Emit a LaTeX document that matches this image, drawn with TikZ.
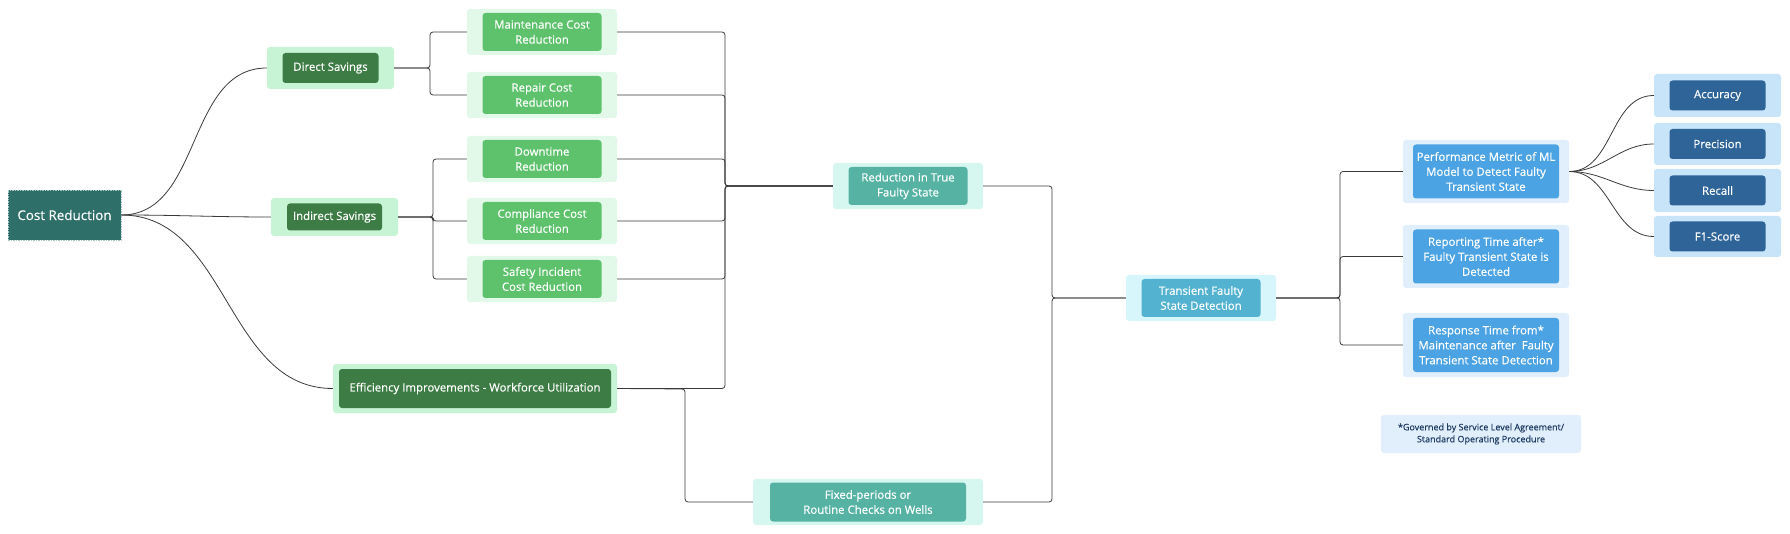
\documentclass[tikz,border=0pt]{standalone}
\usepackage{fontspec}
\setmainfont{Open Sans}[FakeBold=0.5]
\usetikzlibrary{calc}
\definecolor{rootfill}{HTML}{2E6F69}
\definecolor{rootline}{HTML}{A9C7C4}
\definecolor{lonefill}{HTML}{C6F4D4}
\definecolor{loneinner}{HTML}{3D7D45}
\definecolor{leaffill}{HTML}{E2F9EA}
\definecolor{leafinner}{HTML}{5DC26B}
\definecolor{tealfill}{HTML}{D6F7F0}
\definecolor{tealinner}{HTML}{56B3A4}
\definecolor{cyanfill}{HTML}{D6F6FB}
\definecolor{cyaninner}{HTML}{53B2D0}
\definecolor{bluefill}{HTML}{E1EFFC}
\definecolor{blueinner}{HTML}{4CA3E3}
\definecolor{metfill}{HTML}{C7E4F8}
\definecolor{metinner}{HTML}{2E6497}
\definecolor{notetext}{HTML}{1F3B63}
\definecolor{connline}{HTML}{3A3A3A}
\newcommand{\twobox}[9]{%
  \node[#3, minimum width=#4pt, minimum height=#5pt] (#1) at #2 {};
  \node[#6, minimum width=#7pt, minimum height=#8pt] (#1-in) at #2 {#9};
}
\begin{document}
\begin{tikzpicture}[x=1pt,y=-1pt,
  outerbox/.style={rounded corners=3pt, inner sep=0pt, draw=none},
  innerbox/.style={rounded corners=3pt, inner sep=0pt, draw=none, text=white, align=center, font=\fontsize{11.4}{15}\selectfont},
  lone/.style={outerbox, fill=lonefill},
  loneI/.style={innerbox, fill=loneinner},
  leaf/.style={outerbox, fill=leaffill},
  leafI/.style={innerbox, fill=leafinner},
  teal/.style={outerbox, fill=tealfill},
  tealI/.style={innerbox, fill=tealinner},
  cyan/.style={outerbox, fill=cyanfill},
  cyanI/.style={innerbox, fill=cyaninner},
  blue/.style={outerbox, fill=bluefill},
  blueI/.style={innerbox, fill=blueinner},
  met/.style={outerbox, fill=metfill},
  metI/.style={innerbox, fill=metinner},
  conn/.style={draw=connline, line width=0.8pt, rounded corners=3pt},
  curve/.style={draw=connline, line width=0.8pt},
]
\useasboundingbox (0,0) rectangle (1790,534);

% root
\node[fill=rootfill, draw=rootline, dashed, dash pattern=on 1.5pt off 1pt, line width=0.6pt,
      minimum width=113pt, minimum height=50pt, inner sep=0pt, text=white,
      font=\fontsize{13.4}{16}\selectfont] (root) at (64.5,215) {Cost Reduction};

% level 1
\twobox{direct}{(330.5,68)}{lone}{127}{42}{loneI}{96}{30}{Direct Savings}
\twobox{indirect}{(334.5,217)}{lone}{127}{38}{loneI}{95}{27}{Indirect Savings}
\twobox{eff}{(475,388.5)}{lone}{284}{49}{loneI}{272}{39}{Efficiency Improvements - Workforce Utilization}

% leaves
\twobox{maint}{(542,32)}{leaf}{150}{46}{leafI}{119}{38}{Maintenance Cost\\Reduction}
\twobox{repair}{(542,95)}{leaf}{150}{46}{leafI}{119}{38}{Repair Cost\\Reduction}
\twobox{down}{(542,159)}{leaf}{150}{46}{leafI}{119}{38}{Downtime\\Reduction}
\twobox{compl}{(542,221)}{leaf}{150}{46}{leafI}{119}{38}{Compliance Cost\\Reduction}
\twobox{safety}{(542,279)}{leaf}{150}{46}{leafI}{119}{38}{Safety Incident\\Cost Reduction}

% middle
\twobox{red}{(908,186)}{teal}{150}{46}{tealI}{119}{38}{Reduction in True\\Faulty State}
\twobox{fixed}{(868,502)}{teal}{230}{46}{tealI}{196}{39}{Fixed-periods or\\Routine Checks on Wells}
\twobox{trans}{(1201,298)}{cyan}{150}{46}{cyanI}{119}{38}{Transient Faulty\\State Detection}

% right
\twobox{perf}{(1486,171.5)}{blue}{166}{63}{blueI}{146}{54}{Performance Metric of ML\\Model to Detect Faulty\\Transient State}
\twobox{report}{(1486,256.5)}{blue}{166}{63}{blueI}{146}{54}{Reporting Time after*\\Faulty Transient State is\\Detected}
\twobox{resp}{(1486,345)}{blue}{166}{64}{blueI}{146}{54}{Response Time from*\\Maintenance after\ \ Faulty\\Transient State Detection}

% metrics
\twobox{acc}{(1717.5,95.5)}{met}{127}{43}{metI}{96}{30}{Accuracy}
\twobox{prec}{(1717.5,144)}{met}{127}{42}{metI}{96}{30}{Precision}
\twobox{recall}{(1717.5,190.5)}{met}{127}{43}{metI}{96}{30}{Recall}
\twobox{fone}{(1717.5,236.5)}{met}{127}{41}{metI}{96}{30}{F1-Score}

% footnote
\node[fill=bluefill, rounded corners=3pt, minimum width=200pt, minimum height=38pt, inner sep=0pt,
      text=notetext, align=center, font=\fontsize{9}{12}\selectfont] (note) at (1481,434)
      {*Governed by Service Level Agreement/\\Standard Operating Procedure};

% junction coordinates
\coordinate (jd) at (430,68);
\coordinate (ji) at (433,217);
\coordinate (jr) at (725,186);
\coordinate (jf) at (685,389);
\coordinate (jt) at (1052,298);
\coordinate (jp) at (1340,298);

% curves from root
\draw[curve] (root.east) to[out=0,in=180] (direct.west);
\draw[curve] (root.east) to[out=0,in=180] (indirect.west);
\draw[curve] (root.east) to[out=0,in=180] (eff.west);

% direct savings branch
\draw[conn] (direct.east) -- (jd) |- (maint.west);
\draw[conn] (direct.east) -- (jd) |- (repair.west);
% indirect savings branch
\draw[conn] (indirect.east) -- (ji) |- (down.west);
\draw[conn] (indirect.east) -- (ji) |- (compl.west);
\draw[conn] (indirect.east) -- (ji) |- (safety.west);

% to reduction in true faulty state
\draw[conn] (maint.east) -| (jr) -- (red.west);
\draw[conn] (repair.east) -| (jr) -- (red.west);
\draw[conn] (down.east) -| (jr) -- (red.west);
\draw[conn] (compl.east) -| (jr) -- (red.west);
\draw[conn] (safety.east) -| (jr) -- (red.west);
\draw[conn] (eff.east) -| (jr) -- (red.west);

% efficiency to fixed periods
\draw[conn] (eff.east) -- (jf) |- (fixed.west);

% to transient
\draw[conn] (red.east) -| (jt) -- (trans.west);
\draw[conn] (fixed.east) -| (jt) -- (trans.west);

% transient to right
\draw[conn] (trans.east) -- (jp) |- (perf.west);
\draw[conn] (trans.east) -- (jp) |- (report.west);
\draw[conn] (trans.east) -- (jp) |- (resp.west);

% metrics curves
\draw[curve] (perf.east) to[out=0,in=180] (acc.west);
\draw[curve] (perf.east) to[out=0,in=180] (prec.west);
\draw[curve] (perf.east) to[out=0,in=180] (recall.west);
\draw[curve] (perf.east) to[out=0,in=180] (fone.west);
\end{tikzpicture}
\end{document}
